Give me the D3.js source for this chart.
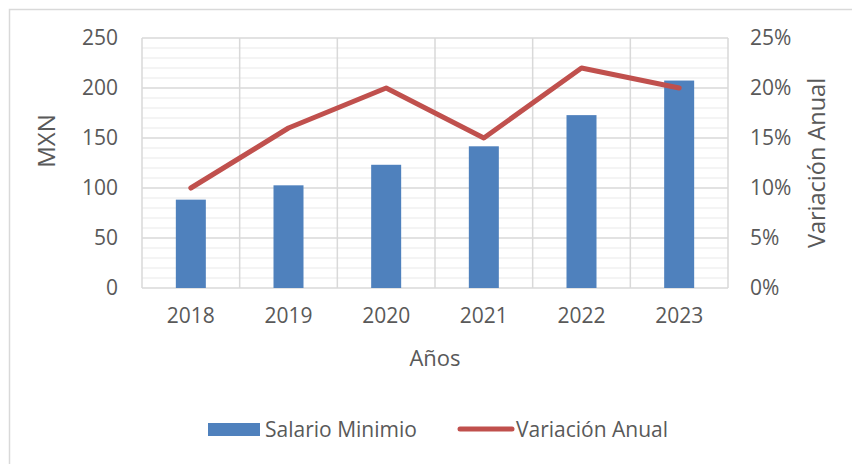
<!doctype html>
<html>
<head>
<script src="https://cdnjs.cloudflare.com/ajax/libs/d3/7.8.5/d3.min.js"></script>
<style>
body { margin: 0; background: #fff; }
text { font-family: "Open Sans", sans-serif; fill: #595959; }
</style>
</head>
<body>
<svg id="chart" width="852" height="464"></svg>
<script>
var years = ["2018", "2019", "2020", "2021", "2022", "2023"];
var salario = [88.36, 102.68, 123.22, 141.70, 172.87, 207.44];
var variacion = [0.10, 0.16, 0.20, 0.15, 0.22, 0.20];
var leftTicks = [0, 50, 100, 150, 200, 250];
var rightTicks = [0, 0.05, 0.10, 0.15, 0.20, 0.25];

var svg = d3.select("#chart");
var plot = {left: 142, right: 728, top: 38, bottom: 288};

// outer chart frame (only top & left visible in the crop)
svg.append("rect")
  .attr("x", 9.5).attr("y", 9.5)
  .attr("width", 900).attr("height", 600)
  .attr("fill", "none").attr("stroke", "#d9d9d9").attr("stroke-width", 1.5);

var x = d3.scaleBand().domain(years).range([plot.left, plot.right]).paddingInner(0).paddingOuter(0);
var yL = d3.scaleLinear().domain([0, 250]).range([plot.bottom, plot.top]);
var yR = d3.scaleLinear().domain([0, 0.25]).range([plot.bottom, plot.top]);

var g = svg.append("g");

// minor gridlines every 10
g.selectAll("line.minor")
  .data(d3.range(0, 251, 10).filter(v => v % 50 !== 0))
  .enter().append("line")
  .attr("class", "minor")
  .attr("x1", plot.left).attr("x2", plot.right)
  .attr("y1", d => yL(d)).attr("y2", d => yL(d))
  .attr("stroke", "#f0f0f0").attr("stroke-width", 1.5);

// major gridlines
g.selectAll("line.major")
  .data(leftTicks)
  .enter().append("line")
  .attr("class", "major")
  .attr("x1", plot.left).attr("x2", plot.right)
  .attr("y1", d => yL(d)).attr("y2", d => yL(d))
  .attr("stroke", "#d9d9d9").attr("stroke-width", 1.5);

// vertical gridlines at category boundaries
g.selectAll("line.vgrid")
  .data(years.concat(["end"]))
  .enter().append("line")
  .attr("class", "vgrid")
  .attr("x1", (d, i) => plot.left + i * x.bandwidth())
  .attr("x2", (d, i) => plot.left + i * x.bandwidth())
  .attr("y1", plot.top).attr("y2", plot.bottom)
  .attr("stroke", "#d9d9d9").attr("stroke-width", 1.5);

// bars
var barW = 30;
g.selectAll("rect.bar")
  .data(salario)
  .enter().append("rect")
  .attr("class", "bar")
  .attr("x", (d, i) => x(years[i]) + x.bandwidth() / 2 - barW / 2)
  .attr("width", barW)
  .attr("y", d => yL(d))
  .attr("height", d => yL(0) - yL(d))
  .attr("fill", "#4f81bd");

// line
var line = d3.line()
  .x((d, i) => x(years[i]) + x.bandwidth() / 2)
  .y(d => yR(d));
g.append("path")
  .datum(variacion)
  .attr("d", line)
  .attr("fill", "none")
  .attr("stroke", "#c0504d")
  .attr("stroke-width", 5)
  .attr("stroke-linecap", "round")
  .attr("stroke-linejoin", "round");

// axes
var fs = "21px";
var axL = svg.append("g")
  .attr("transform", "translate(" + plot.left + ",0)")
  .call(d3.axisLeft(yL).tickValues(leftTicks).tickSize(0).tickPadding(24));
axL.select(".domain").remove();
axL.selectAll("text").style("font-size", fs).style("font-family", "Open Sans").attr("fill", "#595959");

var axR = svg.append("g")
  .attr("transform", "translate(" + plot.right + ",0)")
  .call(d3.axisRight(yR).tickValues(rightTicks).tickFormat(d3.format(".0%")).tickSize(0).tickPadding(22));
axR.select(".domain").remove();
axR.selectAll("text").style("font-size", fs).style("font-family", "Open Sans").attr("fill", "#595959");

var axB = svg.append("g")
  .attr("transform", "translate(0," + plot.bottom + ")")
  .call(d3.axisBottom(x).tickSize(0).tickPadding(20));
axB.select(".domain").remove();
axB.selectAll("text").style("font-size", fs).style("font-family", "Open Sans").attr("fill", "#595959");

// axis titles
svg.append("text")
  .attr("transform", "translate(55,141) rotate(-90)")
  .attr("text-anchor", "middle")
  .style("font-size", "24px")
  .text("MXN");

svg.append("text")
  .attr("transform", "translate(825,163) rotate(-90)")
  .attr("text-anchor", "middle")
  .style("font-size", "23.5px")
  .text("Variación Anual");

svg.append("text")
  .attr("x", 435).attr("y", 366)
  .attr("text-anchor", "middle")
  .style("font-size", "22px")
  .text("Años");

// legend
var lg = svg.append("g");
lg.append("rect")
  .attr("x", 208).attr("y", 423).attr("width", 52).attr("height", 13)
  .attr("fill", "#4f81bd");
lg.append("text")
  .attr("x", 265).attr("y", 437)
  .style("font-size", "21px")
  .text("Salario Minimio");
lg.append("line")
  .attr("x1", 460).attr("x2", 512).attr("y1", 429).attr("y2", 429)
  .attr("stroke", "#c0504d").attr("stroke-width", 5).attr("stroke-linecap", "round");
lg.append("text")
  .attr("x", 516).attr("y", 437)
  .style("font-size", "21px")
  .text("Variación Anual");
</script>
</body>
</html>
